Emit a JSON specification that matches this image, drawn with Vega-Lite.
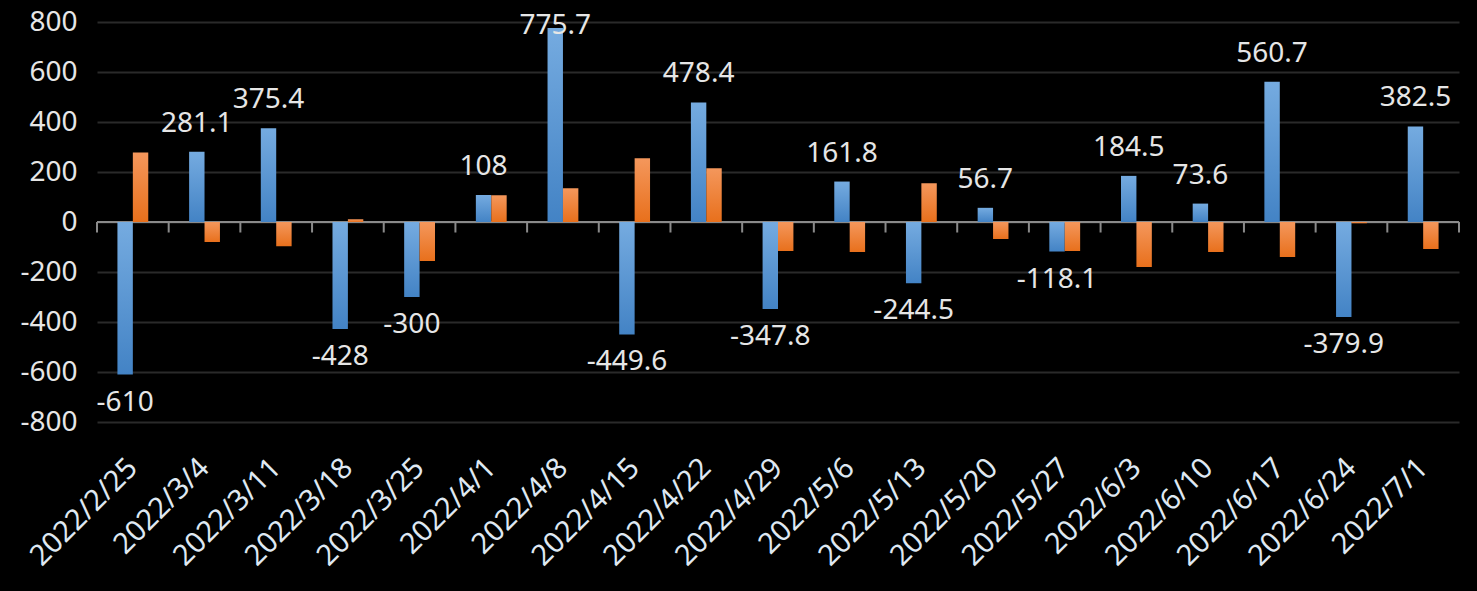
{
  "$schema": "https://vega.github.io/schema/vega-lite/v6.json",
  "background": "#000000",
  "autosize": {"type": "none"},
  "padding": {"left": 97, "top": 22, "right": 18, "bottom": 169},
  "width": 1362,
  "height": 400,
  "config": {
    "view": {"stroke": null},
    "font": "Noto Sans",
    "locale": {"number": {"decimal": ".", "thousands": ",", "grouping": [3], "currency": ["$", ""], "minus": "-"}}
  },
  "data": {
    "values": [
      {"date": "2022/2/25", "series": "A", "value": -610},
      {"date": "2022/3/4", "series": "A", "value": 281.1},
      {"date": "2022/3/11", "series": "A", "value": 375.4},
      {"date": "2022/3/18", "series": "A", "value": -428},
      {"date": "2022/3/25", "series": "A", "value": -300},
      {"date": "2022/4/1", "series": "A", "value": 108},
      {"date": "2022/4/8", "series": "A", "value": 775.7},
      {"date": "2022/4/15", "series": "A", "value": -449.6},
      {"date": "2022/4/22", "series": "A", "value": 478.4},
      {"date": "2022/4/29", "series": "A", "value": -347.8},
      {"date": "2022/5/6", "series": "A", "value": 161.8},
      {"date": "2022/5/13", "series": "A", "value": -244.5},
      {"date": "2022/5/20", "series": "A", "value": 56.7},
      {"date": "2022/5/27", "series": "A", "value": -118.1},
      {"date": "2022/6/3", "series": "A", "value": 184.5},
      {"date": "2022/6/10", "series": "A", "value": 73.6},
      {"date": "2022/6/17", "series": "A", "value": 560.7},
      {"date": "2022/6/24", "series": "A", "value": -379.9},
      {"date": "2022/7/1", "series": "A", "value": 382.5},
      {"date": "2022/2/25", "series": "B", "value": 278},
      {"date": "2022/3/4", "series": "B", "value": -80},
      {"date": "2022/3/11", "series": "B", "value": -97},
      {"date": "2022/3/18", "series": "B", "value": 11},
      {"date": "2022/3/25", "series": "B", "value": -156},
      {"date": "2022/4/1", "series": "B", "value": 107},
      {"date": "2022/4/8", "series": "B", "value": 135},
      {"date": "2022/4/15", "series": "B", "value": 255},
      {"date": "2022/4/22", "series": "B", "value": 215},
      {"date": "2022/4/29", "series": "B", "value": -116},
      {"date": "2022/5/6", "series": "B", "value": -120},
      {"date": "2022/5/13", "series": "B", "value": 155},
      {"date": "2022/5/20", "series": "B", "value": -68},
      {"date": "2022/5/27", "series": "B", "value": -116},
      {"date": "2022/6/3", "series": "B", "value": -180},
      {"date": "2022/6/10", "series": "B", "value": -120},
      {"date": "2022/6/17", "series": "B", "value": -140},
      {"date": "2022/6/24", "series": "B", "value": -5},
      {"date": "2022/7/1", "series": "B", "value": -108}
    ]
  },
  "layer": [
    {
      "layer": [
        {
          "mark": {"type": "rule", "color": "#8a8a8a", "strokeWidth": 2},
          "encoding": {
            "y": {"datum": 0, "type": "quantitative", "scale": {"domain": [-800, 800], "nice": false, "zero": false},
              "axis": {
                "values": [-800, -600, -400, -200, 0, 200, 400, 600, 800],
                "title": null, "domain": false, "ticks": false,
                "grid": true, "gridColor": "#2a2a2a", "gridWidth": 2,
                "labelColor": "#e6e6e6", "labelFontSize": 28, "labelPadding": 20,
                "labelFont": "Noto Sans"
              }
            }
          }
        },
        {
          "transform": [{"filter": "datum.series === 'A'"}],
          "mark": {"type": "rule", "color": "#8a8a8a", "strokeWidth": 2},
          "encoding": {
            "x": {"field": "date", "type": "nominal", "sort": null, "bandPosition": 0,
              "scale": {"paddingInner": 0, "paddingOuter": 0}, "axis": null},
            "y": {"datum": 0, "type": "quantitative"},
            "y2": {"datum": -42}
          }
        },
        {
          "transform": [{"filter": "datum.series === 'A' && datum.date === '2022/7/1'"}],
          "mark": {"type": "rule", "color": "#8a8a8a", "strokeWidth": 2},
          "encoding": {
            "x": {"field": "date", "type": "nominal", "sort": null, "bandPosition": 1,
              "scale": {"paddingInner": 0, "paddingOuter": 0}, "axis": null},
            "y": {"datum": 0, "type": "quantitative"},
            "y2": {"datum": -42}
          }
        }
      ]
    },
    {
      "encoding": {
        "x": {
          "field": "date", "type": "nominal", "sort": null,
          "scale": {"paddingInner": 0.57, "paddingOuter": 0.285},
          "axis": {
            "orient": "bottom", "title": null, "domain": false, "ticks": false, "grid": false,
            "labelAngle": -45, "labelColor": "#dfe8f2", "labelFontSize": 29,
            "labelPadding": 31, "labelOffset": -10, "labelFont": "Noto Sans"
          }
        },
        "xOffset": {
          "field": "series", "type": "nominal",
          "scale": {"domain": ["A", "B"], "paddingInner": 0, "paddingOuter": 0}
        },
        "y": {"field": "value", "type": "quantitative"}
      },
      "layer": [
        {
          "transform": [{"filter": "datum.series === 'A'"}],
          "mark": {
            "type": "bar",
            "color": {"gradient": "linear", "x1": 0, "y1": 0, "x2": 0, "y2": 1,
              "stops": [{"offset": 0, "color": "#75abe0"}, {"offset": 1, "color": "#4383c5"}]}
          }
        },
        {
          "transform": [{"filter": "datum.series === 'B'"}],
          "mark": {
            "type": "bar",
            "color": {"gradient": "linear", "x1": 0, "y1": 0, "x2": 0, "y2": 1,
              "stops": [{"offset": 0, "color": "#f4975c"}, {"offset": 1, "color": "#e8701c"}]}
          }
        },
        {
          "transform": [{"filter": "datum.series === 'A' && datum.value >= 0 && datum.value < 700"}],
          "mark": {"type": "text", "baseline": "alphabetic", "dy": -20, "fontSize": 28, "color": "#e6e6e6", "font": "Noto Sans"},
          "encoding": {"text": {"field": "value", "type": "quantitative"}}
        },
        {
          "transform": [{"filter": "datum.series === 'A' && datum.value >= 700"}],
          "mark": {"type": "text", "baseline": "alphabetic", "dy": 6, "fontSize": 28, "color": "#e6e6e6", "font": "Noto Sans"},
          "encoding": {"text": {"field": "value", "type": "quantitative"}}
        },
        {
          "transform": [{"filter": "datum.series === 'A' && datum.value < 0"}],
          "mark": {"type": "text", "baseline": "top", "dy": 14, "fontSize": 28, "color": "#e6e6e6", "font": "Noto Sans"},
          "encoding": {"text": {"field": "value", "type": "quantitative"}}
        }
      ]
    }
  ],
  "resolve": {"scale": {"x": "independent"}}
}
